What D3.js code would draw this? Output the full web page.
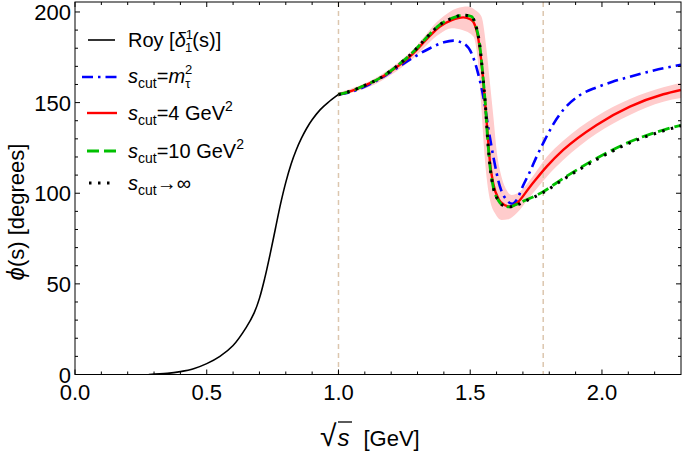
<!DOCTYPE html>
<html><head><meta charset="utf-8">
<script src="https://cdn.jsdelivr.net/npm/d3@7"></script>
<style>body{margin:0;background:#fff}svg{display:block}text{font-family:"Liberation Sans",Arial,sans-serif}</style>
</head><body>
<svg id="c" width="685" height="456"></svg>
<script>
// ---- data (sqrt(s) in GeV, phase in degrees) ----
const xTicks = [0.0, 0.5, 1.0, 1.5, 2.0];
const xTickLabels = ["0.0", "0.5", "1.0", "1.5", "2.0"];
const yTicks = [0, 50, 100, 150, 200];
const yTickLabels = ["0", "50", "100", "150", "200"];
const vLines = [1.0, 1.777];

const royX = [0.28,0.35,0.4,0.45,0.5,0.55,0.6,0.65,0.68,0.7,0.72,0.74,0.76,0.78,0.8,0.82,0.84,0.86,0.88,0.9,0.93,0.96,1.0];
const royY = [0,0.6,1.6,3.2,6,10,16,26,34,42,53,66,80,94,106,116,124,130.5,136,140.5,146,150,154.5];

const mtauX = [1.0,1.05,1.094,1.15,1.22,1.28,1.347,1.4,1.436,1.474,1.505,1.53,1.55,1.568,1.588,1.613,1.638,1.66,1.676,1.7,1.727,1.752,1.777,1.815,1.853,1.917,1.98,2.04,2.106,2.17,2.233,2.3];
const mtauY = [154.5,156,158.4,162.5,168.9,174.5,180,183.3,184.2,182.7,177.2,166,153,136.7,120,103.6,96.3,94.2,96.3,104,112,120.2,127.6,138,145.9,154.2,158.4,161.5,164.3,166.8,169,170.8];

const s4X = [1.0,1.05,1.1,1.157,1.22,1.284,1.335,1.385,1.43,1.474,1.5,1.512,1.531,1.547,1.556,1.568,1.575,1.588,1.607,1.63,1.651,1.676,1.727,1.79,1.853,1.98,2.106,2.233,2.3];
const s4Y = [154.5,156.5,159.5,163.4,169.5,177.2,185,192,195.5,197,196,194.5,185,166,151,129,117,105,97,93.5,92.6,94.4,103.6,114.7,123.9,137.7,147.8,154.6,157];

const bandUpX = [1.0,1.157,1.284,1.385,1.45,1.49,1.52,1.543,1.562,1.575,1.588,1.6,1.619,1.638,1.657,1.689,1.727,1.79,1.853,1.98,2.106,2.233,2.3];
const bandUpY = [155.5,165,179.5,196,202,203,201,197.4,179,160.7,142,123.9,109,101.8,99,100.9,107.3,120,129,142.5,152,158.5,161];
const bandLoX = [1.0,1.157,1.284,1.385,1.43,1.47,1.512,1.531,1.543,1.551,1.562,1.575,1.594,1.619,1.644,1.676,1.727,1.79,1.853,1.98,2.106,2.233,2.3];
const bandLoY = [153.5,161.5,174.5,188,191,190,186.4,169.8,145.9,127.6,109,96.3,88.9,85.2,85.6,88.9,98,109,118.3,133,143.2,150.5,152.5];

const s10X = [1.0,1.05,1.1,1.157,1.22,1.284,1.335,1.385,1.43,1.475,1.505,1.52,1.535,1.548,1.557,1.566,1.575,1.588,1.607,1.63,1.65,1.67,1.7,1.727,1.777,1.853,1.98,2.106,2.233,2.3];
const s10Y = [154.5,156.5,159.5,163.5,170,178,186,193,196.5,198.3,197.5,193,183,165,150,130,115,103,96,93,92.5,93.5,95.5,97.2,100.9,108.2,119.3,128.4,134.9,137.5];

const sinfX = [1.0,1.05,1.1,1.157,1.22,1.284,1.335,1.385,1.43,1.475,1.505,1.52,1.535,1.548,1.557,1.566,1.575,1.588,1.607,1.63,1.65,1.67,1.7,1.727,1.777,1.853,1.98,2.106,2.233,2.3];
const sinfY = [154.5,156.5,159.5,163.5,170,178,186,193,196.5,198.3,197.5,193,183,165,150,130,115,103,96,93,92.5,93,95,96.8,100.4,107.6,118.6,127.8,134.4,137.2];

// ---- layout ----
const svg = d3.select("#c");
const x = d3.scaleLinear().domain([0, 2.3]).range([75, 681]);
const y = d3.scaleLinear().domain([0, 205.5]).range([374.5, 2]);
const zip = (xs, ys) => xs.map((v, i) => [v, ys[i]]);
const line = d3.line().x(d => x(d[0])).y(d => y(d[1])).curve(d3.curveMonotoneX);
const smooth = d3.line().x(d => x(d[0])).y(d => y(d[1])).curve(d3.curveCatmullRom.alpha(0.5));

svg.append("clipPath").attr("id", "pc").append("rect")
  .attr("x", 75).attr("y", 2).attr("width", 606).attr("height", 372.5);
const plot = svg.append("g").attr("clip-path", "url(#pc)");

// band
const up = zip(bandUpX, bandUpY), lo = zip(bandLoX, bandLoY).reverse();
plot.append("path").attr("d", line(up) + "L" + line(lo).slice(1) + "Z")
  .attr("fill", "#ffcccc").attr("stroke", "none");

// vertical dashed lines
vLines.forEach(v => {
  plot.append("line").attr("x1", x(v)).attr("x2", x(v)).attr("y1", 2).attr("y2", 374.5)
    .attr("stroke", "#dcc6ae").attr("stroke-width", 1.5).attr("stroke-dasharray", "5,4");
});

const series = [
  {d: zip(royX, royY), c: "#000", w: 1.6, dash: null, gen: smooth},
  {d: zip(mtauX, mtauY), c: "#0000ff", w: 2.6, dash: "11,5,2.5,5", gen: line},
  {d: zip(s4X, s4Y), c: "#ff0000", w: 2.4, dash: null, gen: line},
  {d: zip(s10X, s10Y), c: "#00c000", w: 2.8, dash: "12,5", gen: line},
  {d: zip(sinfX, sinfY), c: "#000", w: 3, dash: "2.5,6.5", gen: line}
];
series.forEach(s => {
  plot.append("path").attr("d", s.gen(s.d)).attr("fill", "none")
    .attr("stroke", s.c).attr("stroke-width", s.w)
    .attr("stroke-dasharray", s.dash);
});

// frame
svg.append("rect").attr("x", 75).attr("y", 2).attr("width", 606).attr("height", 372.5)
  .attr("fill", "none").attr("stroke", "#000").attr("stroke-width", 1);

// ticks (inward, all sides)
const tk = svg.append("g").attr("stroke", "#000").attr("stroke-width", 1);
d3.range(0, 23).forEach(i => {
  const v = i / 10, major = i % 5 === 0, L = major ? 5 : 3;
  tk.append("line").attr("x1", x(v)).attr("x2", x(v)).attr("y1", 374.5).attr("y2", 374.5 - L);
  tk.append("line").attr("x1", x(v)).attr("x2", x(v)).attr("y1", 2).attr("y2", 2 + L);
});
d3.range(0, 21).forEach(i => {
  const v = i * 10, major = i % 5 === 0, L = major ? 5 : 3;
  tk.append("line").attr("x1", 75).attr("x2", 75 + L).attr("y1", y(v)).attr("y2", y(v));
  tk.append("line").attr("x1", 681).attr("x2", 681 - L).attr("y1", y(v)).attr("y2", y(v));
});

// tick labels
xTicks.forEach((v, i) => {
  svg.append("text").attr("x", x(v)).attr("y", 400).attr("text-anchor", "middle")
    .attr("font-size", 22).text(xTickLabels[i]);
});
yTicks.forEach((v, i) => {
  svg.append("text").attr("x", 71).attr("y", y(v) + 8).attr("text-anchor", "end")
    .attr("font-size", 22).text(yTickLabels[i]);
});

// axis titles
const yt = svg.append("text").attr("transform", "translate(24,212) rotate(-90)")
  .attr("text-anchor", "middle").attr("font-size", 22);
yt.append("tspan").attr("font-style", "italic").attr("font-size", 24).text("ϕ");
yt.append("tspan").text("(s) [degrees]");

const xt = svg.append("text").attr("x", 320).attr("y", 446).attr("font-size", 24);
xt.append("tspan").attr("font-size", 30).text("√");
xt.append("tspan").attr("font-style", "italic").attr("dx", 1).text("s");
xt.append("tspan").attr("dx", 14).attr("font-size", 22).text("[GeV]");
svg.append("line").attr("x1", 338).attr("x2", 352).attr("y1", 422).attr("y2", 422)
  .attr("stroke", "#000").attr("stroke-width", 1.3);

// legend
const lg = svg.append("g");
const legendRows = [
  {y: 40, c: "#000", w: 1.6, dash: null, x1: 88, x2: 115},
  {y: 77, c: "#0000ff", w: 2.6, dash: "11,5,2.5,5", x1: 82, x2: 121},
  {y: 113, c: "#ff0000", w: 2.4, dash: null, x1: 87, x2: 117},
  {y: 151, c: "#00c000", w: 2.8, dash: "12,5", x1: 87, x2: 117},
  {y: 183, c: "#000", w: 3, dash: "2.5,6.5", x1: 89, x2: 116}
];
legendRows.forEach(r => {
  lg.append("line").attr("x1", r.x1).attr("x2", r.x2).attr("y1", r.y).attr("y2", r.y)
    .attr("stroke", r.c).attr("stroke-width", r.w).attr("stroke-dasharray", r.dash);
});
const fs = 20;
// Roy
let t = lg.append("text").attr("x", 128).attr("y", 47).attr("font-size", fs);
t.append("tspan").text("Roy [");
t.append("tspan").attr("font-style", "italic").text("δ");
t.append("tspan").attr("font-size", 13).attr("dy", -8).text("1");
t.append("tspan").attr("font-size", 13).attr("dx", -7).attr("dy", 13).text("1");
t.append("tspan").attr("dy", -5).text("(s)]");
function scut(yb, rest) {
  const tt = lg.append("text").attr("x", 128).attr("y", yb).attr("font-size", fs);
  tt.append("tspan").attr("font-style", "italic").text("s");
  tt.append("tspan").attr("font-size", 14).attr("dy", 5).text("cut");
  tt.append("tspan").attr("dy", -5).text(rest);
  return tt;
}
t = scut(83, "=");
t.append("tspan").attr("font-style", "italic").text("m");
t.append("tspan").attr("font-size", 13).attr("dy", -9).text("2");
t.append("tspan").attr("font-size", 13).attr("dx", -7).attr("dy", 14).text("τ");
t = scut(120, "=4 GeV");
t.append("tspan").attr("font-size", 14).attr("dy", -9).text("2");
t = scut(158, "=10 GeV");
t.append("tspan").attr("font-size", 14).attr("dy", -9).text("2");
t = scut(190, "→∞");
</script>
</body></html>
